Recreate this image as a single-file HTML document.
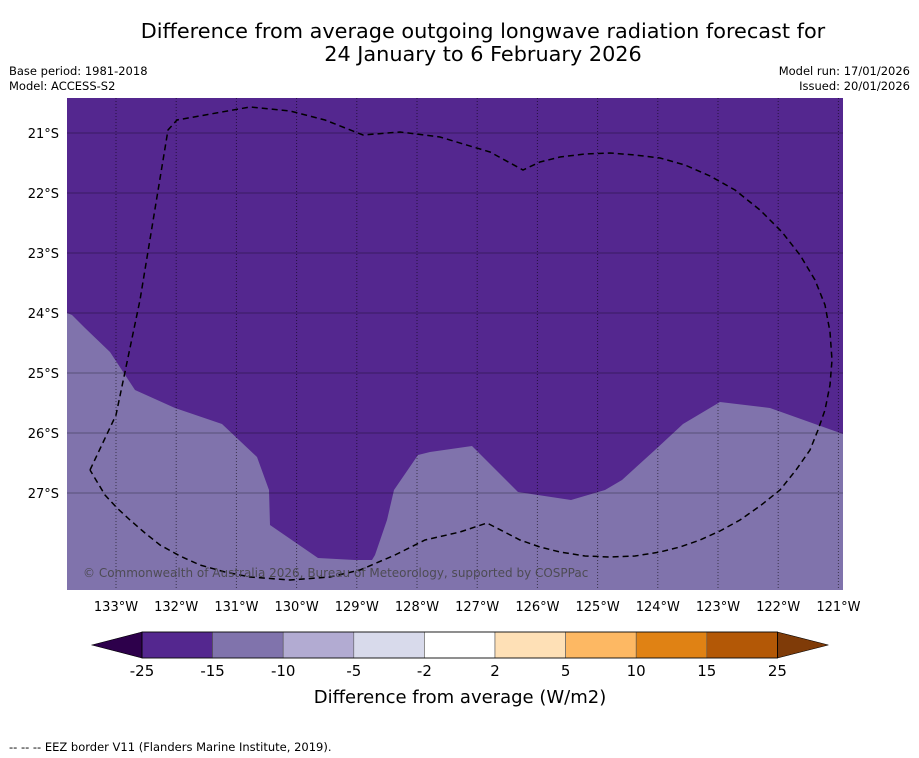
<!DOCTYPE html>
<html><head><meta charset="utf-8"><style>
html,body{margin:0;padding:0;background:#fff;}
svg{display:block;font-family:"DejaVu Sans","Liberation Sans",sans-serif;}
</style></head><body>
<svg id="c" width="919" height="758" viewBox="0 0 919 758" xmlns="http://www.w3.org/2000/svg">
<text x="483" y="38" font-size="20.8" text-anchor="middle">Difference from average outgoing longwave radiation forecast for</text>
<text x="483" y="61" font-size="20.8" text-anchor="middle">24 January to 6 February 2026</text>
<text x="9" y="75" font-size="11.5">Base period: 1981-2018</text>
<text x="9" y="90" font-size="11.5">Model: ACCESS-S2</text>
<text x="910" y="75" font-size="11.5" text-anchor="end">Model run: 17/01/2026</text>
<text x="910" y="90" font-size="11.5" text-anchor="end">Issued: 20/01/2026</text>
<g id="map">
<rect x="67" y="98" width="776" height="492" fill="#54278f"/>
<polygon fill="#8073ac" points="67,313 72,315 85,328 110,352 135,390 175,408 222,424 257,457 269,490 270,525 318,558 355,560 372,560 375,555 387,520 394,490 418,455 430,452 472,446 486,460 518,492 571,500 605,490 622,480 655,450 683,424 720,402 770,408 843,434 843,590 67,590"/>
<g id="grid"></g>
<polyline fill="none" stroke="#000" stroke-width="1.5" stroke-dasharray="6,4" points="90,470 116,415 140,300 168,130 177,120 250,107 290,111 325,120 363,135 400,132 440,137 490,152 523,170 540,162 560,157 585,154 610,153 635,155 660,158 685,165 710,176 735,190 760,210 782,232 800,255 815,280 825,305 830,332 832,360 830,385 825,410 818,430 810,450 796,470 780,490 760,506 740,520 720,531 700,540 680,547 660,552 635,556 610,557 585,556 560,552 540,547 520,540 487,523 460,532 425,540 395,555 360,570 330,577 290,580 250,577 225,572 200,565 180,556 160,545 145,533 130,520 117,508 105,495 90,470"/>
<text x="83" y="577" font-size="12" fill="#444" fill-opacity="0.85">© Commonwealth of Australia 2026, Bureau of Meteorology, supported by COSPPac</text>
</g>
<g id="axes"></g>
<g id="cbar"></g>
<text x="460" y="703" font-size="18" text-anchor="middle">Difference from average (W/m2)</text>
<text x="9" y="751" font-size="11.5">--  --  -- EEZ border V11 (Flanders Marine Institute, 2019).</text>
</svg>
<script>
const lonTicks=[133,132,131,130,129,128,127,126,125,124,123,122,121];
const latTicks=[21,22,23,24,25,26,27];
const cbLevels=[-25,-15,-10,-5,-2,2,5,10,15,25];
const cbColors=['#54278f','#8073ac','#b2abd2','#d8daeb','#ffffff','#fee0b6','#fdb863','#e08214','#b35806'];
const cbExtColors=['#2d004b','#7f3b08'];
const NS='http://www.w3.org/2000/svg';
function mk(t,a,p){const e=document.createElementNS(NS,t);for(const k in a)e.setAttribute(k,a[k]);p.appendChild(e);return e;}
const xLon=l=>116+(133-l)*60.2;
const yLat=l=>133+(l-21)*60;
const grid=document.getElementById('grid'),axes=document.getElementById('axes'),cb=document.getElementById('cbar');
lonTicks.forEach(l=>{
  const x=xLon(l);
  const g=mk('line',{x1:x,x2:x,y1:98,y2:590,stroke:'#000','stroke-opacity':0.55,'stroke-width':1,'stroke-dasharray':'1,2'},grid);
  
  
  const t=mk('text',{x:x,y:611,'font-size':13,'text-anchor':'middle'},axes);
  t.textContent=l+'°W';
  
  
});
latTicks.forEach(l=>{
  const y=yLat(l);
  const g=mk('line',{x1:67,x2:843,y1:y,y2:y,stroke:'#000','stroke-opacity':0.3,'stroke-width':1},grid);
  
  
  const t=mk('text',{x:59,y:y+5,'font-size':13,'text-anchor':'end'},axes);
  t.textContent=l+'°S';
  
  
});
const cx0=142,cw=70.6,cy=632,ch=26,n=cbColors.length;
const xCb=i=>cx0+i*cw;
cbColors.forEach((c,i)=>{
  const r=mk('rect',{x:xCb(i),y:cy,width:cw,height:ch,fill:c,stroke:'#555','stroke-width':0.6},cb);
  
  
});
const e1=mk('polygon',{points:`${xCb(0)},${cy} 92,${cy+ch/2} ${xCb(0)},${cy+ch}`,fill:cbExtColors[0],stroke:'#000','stroke-width':0.6},cb);


const e2=mk('polygon',{points:`${xCb(n)},${cy} ${xCb(n)+51},${cy+ch/2} ${xCb(n)},${cy+ch}`,fill:cbExtColors[1],stroke:'#000','stroke-width':0.6},cb);


const fr=mk('rect',{x:xCb(0),y:cy,width:n*cw,height:ch,fill:'none',stroke:'#000','stroke-width':0.8},cb);


cbLevels.forEach((v,i)=>{
  const t=mk('text',{x:xCb(i),y:676,'font-size':15,'text-anchor':'middle'},cb);
  t.textContent=v;
  
  
});
</script>
</body></html>
